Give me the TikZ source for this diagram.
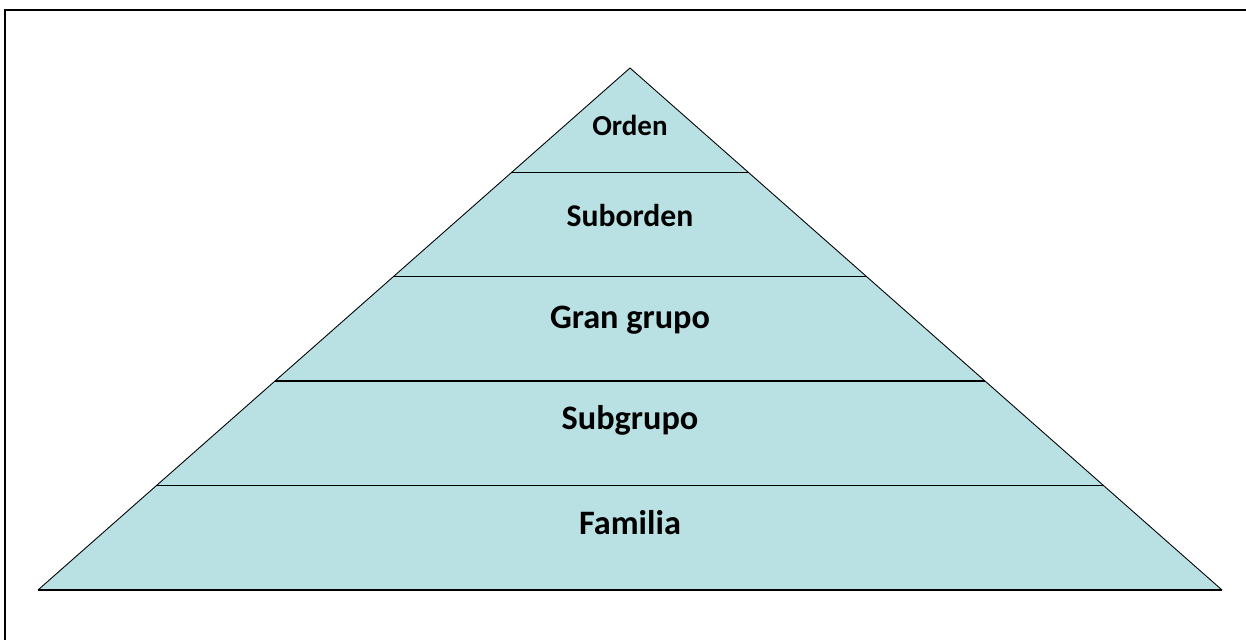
\documentclass[tikz,border=0pt]{standalone}
\usepackage{fontspec}
\setmainfont{Carlito}
\usepackage{tikz}
\usetikzlibrary{calc}

\definecolor{pyrfill}{RGB}{185,224,227}

\tikzset{
  layer/.style={font=\bfseries\fontsize{19.5}{22}\selectfont},
  midlayer/.style={font=\bfseries\fontsize{18}{21}\selectfont},
  toplayer/.style={font=\bfseries\fontsize{16.5}{19}\selectfont}
}

\begin{document}
\begin{tikzpicture}
  \useasboundingbox (0,0) rectangle (24.92,12.8);

  % Frame
  \draw[line width=1.1pt] (0.1,0) -- (0.1,12.6) -- (24.92,12.6);

  % Pyramid
  \coordinate (apex) at (12.6,11.44);
  \coordinate (base-l) at (0.76,1.0);
  \coordinate (base-r) at (24.44,1.0);
  \fill[pyrfill] (apex) -- (base-l) -- (base-r) -- cycle;
  \draw[line width=0.5pt] (base-l) -- (apex) -- (base-r);
  \draw[line width=0.9pt] (base-l) -- (base-r);

  % Layer lines
  \foreach \f in {0.2,0.4,0.6,0.8}
    \draw[line width=0.8pt] ($(apex)!\f!(base-l)$) -- ($(apex)!\f!(base-r)$);

  % Labels
  \node[toplayer] (orden) at (12.6,10.3) {Orden};
  \node[midlayer] (suborden) at (12.6,8.48) {Suborden};
  \node[layer] (grangrupo) at (12.6,6.4) {Gran grupo};
  \node[layer] (subgrupo) at (12.6,4.4) {Subgrupo};
  \node[layer] (familia) at (12.6,2.34) {Familia};
\end{tikzpicture}
\end{document}
